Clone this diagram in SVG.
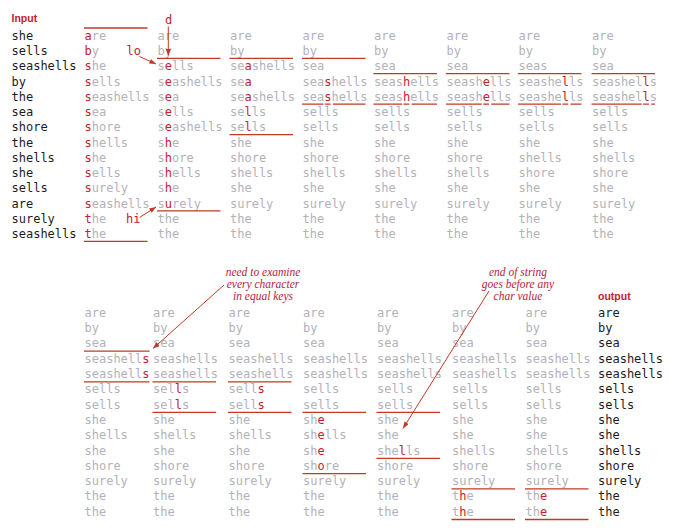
<svg xmlns="http://www.w3.org/2000/svg" width="680" height="531" viewBox="0 0 680 531">
  <style>
    text { font-family: "DejaVu Sans Mono", "Liberation Mono", monospace; font-size: 12px; }
    .g { fill: #b2b2ba; }
    .k { fill: #1c1c1c; }
    .h { fill: #c8202e; }
    .ln { stroke: #c23a24; stroke-width: 1.3; fill: none; }
    .lab { font-family: "Liberation Sans", Arial, sans-serif; font-weight: bold; font-size: 10.5px; fill: #c8202e; }
    .note { font-family: "Liberation Serif", "Times New Roman", serif; font-style: italic; font-size: 11.5px; fill: #b8213a; text-anchor: middle; }
    .arr { stroke: #c23a24; stroke-width: 1; fill: none; marker-end: url(#ah); }
  </style>
  <defs>
    <marker id="ah" viewBox="0 0 8 6" refX="8" refY="3" markerWidth="7" markerHeight="5" orient="auto" markerUnits="userSpaceOnUse">
      <path d="M0,0 L8,3 L0,6 z" fill="#c23a24"/>
    </marker>
  </defs>

  <!-- labels -->
  <text class="lab" x="11.5" y="21.5">Input</text>
  <text class="lab" x="598" y="300">output</text>
  <text class="h" x="165" y="24">d</text>
  <text class="h" x="126.5" y="55.1">lo</text>
  <text class="h" x="126" y="222.8">hi</text>
  <text class="note" x="263" y="276">need to examine</text>
  <text class="note" x="263" y="288">every character</text>
  <text class="note" x="263" y="300">in equal keys</text>
  <text class="note" x="518" y="276">end of string</text>
  <text class="note" x="518" y="288">goes before any</text>
  <text class="note" x="518" y="300">char value</text>

  <!-- input keys -->
  <g id="input" class="k" transform="translate(11.5,0)">
    <text y="39.8">she</text><text y="55.1">sells</text><text y="70.3">seashells</text><text y="85.6">by</text>
    <text y="100.8">the</text><text y="116.1">sea</text><text y="131.3">shore</text><text y="146.6">the</text>
    <text y="161.8">shells</text><text y="177.1">she</text><text y="192.3">sells</text><text y="207.6">are</text>
    <text y="222.8">surely</text><text y="238.1">seashells</text>
  </g>

  <!-- top trace, step 1: partition on first char -->
  <g id="top1" class="g" transform="translate(84.5,0)">
    <text y="39.8"><tspan class="h">a</tspan>re</text>
    <text y="55.1"><tspan class="h">b</tspan>y</text>
    <text y="70.3"><tspan class="h">s</tspan>he</text>
    <text y="85.6"><tspan class="h">s</tspan>ells</text>
    <text y="100.8"><tspan class="h">s</tspan>eashells</text>
    <text y="116.1"><tspan class="h">s</tspan>ea</text>
    <text y="131.3"><tspan class="h">s</tspan>hore</text>
    <text y="146.6"><tspan class="h">s</tspan>hells</text>
    <text y="161.8"><tspan class="h">s</tspan>he</text>
    <text y="177.1"><tspan class="h">s</tspan>ells</text>
    <text y="192.3"><tspan class="h">s</tspan>urely</text>
    <text y="207.6"><tspan class="h">s</tspan>eashells</text>
    <text y="222.8"><tspan class="h">t</tspan>he</text>
    <text y="238.1"><tspan class="h">t</tspan>he</text>
    <path class="ln" d="M-0.5,28H63M-0.5,241.4H63"/>
  </g>

  <g id="top2" class="g" transform="translate(157.5,0)">
    <text y="39.8">are</text>
    <text y="55.1">by</text>
    <text y="70.3">s<tspan class="h">e</tspan>lls</text>
    <text y="85.6">s<tspan class="h">e</tspan>ashells</text>
    <text y="100.8">s<tspan class="h">e</tspan>a</text>
    <text y="116.1">s<tspan class="h">e</tspan>lls</text>
    <text y="131.3">s<tspan class="h">e</tspan>ashells</text>
    <text y="146.6">s<tspan class="h">h</tspan>e</text>
    <text y="161.8">s<tspan class="h">h</tspan>ore</text>
    <text y="177.1">s<tspan class="h">h</tspan>ells</text>
    <text y="192.3">s<tspan class="h">h</tspan>e</text>
    <text y="207.6">s<tspan class="h">u</tspan>rely</text>
    <text y="222.8">the</text>
    <text y="238.1">the</text>
    <path class="ln" d="M-0.5,58.4H63M-0.5,210.9H63"/>
  </g>

  <g id="top3" class="g" transform="translate(230,0)">
    <text y="39.8">are</text>
    <text y="55.1">by</text>
    <text y="70.3">se<tspan class="h">a</tspan>shells</text>
    <text y="85.6">se<tspan class="h">a</tspan></text>
    <text y="100.8">se<tspan class="h">a</tspan>shells</text>
    <text y="116.1">se<tspan class="h">l</tspan>ls</text>
    <text y="131.3">se<tspan class="h">l</tspan>ls</text>
    <text y="146.6">she</text>
    <text y="161.8">shore</text>
    <text y="177.1">shells</text>
    <text y="192.3">she</text>
    <text y="207.6">surely</text>
    <text y="222.8">the</text>
    <text y="238.1">the</text>
    <path class="ln" d="M-0.5,58.4H63M-0.5,134.6H63"/>
  </g>

  <g id="top4" class="g" transform="translate(302.5,0)">
    <text y="39.8">are</text>
    <text y="55.1">by</text>
    <text y="70.3">sea</text>
    <text y="85.6">sea<tspan class="h">s</tspan>hells</text>
    <text y="100.8">sea<tspan class="h">s</tspan>hells</text>
    <text y="116.1">sells</text>
    <text y="131.3">sells</text>
    <text y="146.6">she</text>
    <text y="161.8">shore</text>
    <text y="177.1">shells</text>
    <text y="192.3">she</text>
    <text y="207.6">surely</text>
    <text y="222.8">the</text>
    <text y="238.1">the</text>
    <path class="ln" d="M-0.5,58.4H63M-0.5,104.1H20.9M22.3,104.1H28.1M30.4,104.1H63"/>
  </g>

  <g id="top5" class="g" transform="translate(374,0)">
    <text y="39.8">are</text>
    <text y="55.1">by</text>
    <text y="70.3">sea</text>
    <text y="85.6">seas<tspan class="h">h</tspan>ells</text>
    <text y="100.8">seas<tspan class="h">h</tspan>ells</text>
    <text y="116.1">sells</text>
    <text y="131.3">sells</text>
    <text y="146.6">she</text>
    <text y="161.8">shore</text>
    <text y="177.1">shells</text>
    <text y="192.3">she</text>
    <text y="207.6">surely</text>
    <text y="222.8">the</text>
    <text y="238.1">the</text>
    <path class="ln" d="M-0.5,73.6H63M-0.5,104.1H28.1M29.5,104.1H35.3M37.6,104.1H63"/>
  </g>

  <g id="top6" class="g" transform="translate(446.5,0)">
    <text y="39.8">are</text>
    <text y="55.1">by</text>
    <text y="70.3">sea</text>
    <text y="85.6">seash<tspan class="h">e</tspan>lls</text>
    <text y="100.8">seash<tspan class="h">e</tspan>lls</text>
    <text y="116.1">sells</text>
    <text y="131.3">sells</text>
    <text y="146.6">she</text>
    <text y="161.8">shore</text>
    <text y="177.1">shells</text>
    <text y="192.3">she</text>
    <text y="207.6">surely</text>
    <text y="222.8">the</text>
    <text y="238.1">the</text>
    <path class="ln" d="M-0.5,73.6H63M-0.5,104.1H35.3M36.7,104.1H42.5M44.8,104.1H63"/>
  </g>

  <g id="top7" class="g" transform="translate(518.5,0)">
    <text y="39.8">are</text>
    <text y="55.1">by</text>
    <text y="70.3">seas</text>
    <text y="85.6">seashe<tspan class="h">l</tspan>ls</text>
    <text y="100.8">seashe<tspan class="h">l</tspan>ls</text>
    <text y="116.1">sells</text>
    <text y="131.3">sells</text>
    <text y="146.6">she</text>
    <text y="161.8">shells</text>
    <text y="177.1">shore</text>
    <text y="192.3">she</text>
    <text y="207.6">surely</text>
    <text y="222.8">the</text>
    <text y="238.1">the</text>
    <path class="ln" d="M-0.5,73.6H63M-0.5,104.1H42.5M43.9,104.1H49.7M52,104.1H63"/>
  </g>

  <g id="top8" class="g" transform="translate(592,0)">
    <text y="39.8">are</text>
    <text y="55.1">by</text>
    <text y="70.3">sea</text>
    <text y="85.6">seashel<tspan class="h">l</tspan>s</text>
    <text y="100.8">seashel<tspan class="h">l</tspan>s</text>
    <text y="116.1">sells</text>
    <text y="131.3">sells</text>
    <text y="146.6">she</text>
    <text y="161.8">shells</text>
    <text y="177.1">shore</text>
    <text y="192.3">she</text>
    <text y="207.6">surely</text>
    <text y="222.8">the</text>
    <text y="238.1">the</text>
    <path class="ln" d="M-0.5,73.6H63M-0.5,104.1H49.7M51.1,104.1H56.9M59.3,104.1H63"/>
  </g>

  <!-- bottom trace -->
  <g id="bot1" class="g" transform="translate(84.5,0)">
    <text y="316.8">are</text>
    <text y="332.1">by</text>
    <text y="347.4">sea</text>
    <text y="362.7">seashell<tspan class="h">s</tspan></text>
    <text y="378">seashell<tspan class="h">s</tspan></text>
    <text y="393.3">sells</text>
    <text y="408.6">sells</text>
    <text y="423.9">she</text>
    <text y="439.2">shells</text>
    <text y="454.5">she</text>
    <text y="469.8">shore</text>
    <text y="485.1">surely</text>
    <text y="500.4">the</text>
    <text y="515.7">the</text>
    <path class="ln" d="M-0.5,351.2H65M-0.5,381.8H65"/>
  </g>

  <g id="bot2" class="g" transform="translate(153,0)">
    <text y="316.8">are</text>
    <text y="332.1">by</text>
    <text y="347.4">sea</text>
    <text y="362.7">seashells</text>
    <text y="378">seashells</text>
    <text y="393.3">sel<tspan class="h">l</tspan>s</text>
    <text y="408.6">sel<tspan class="h">l</tspan>s</text>
    <text y="423.9">she</text>
    <text y="439.2">shells</text>
    <text y="454.5">she</text>
    <text y="469.8">shore</text>
    <text y="485.1">surely</text>
    <text y="500.4">the</text>
    <text y="515.7">the</text>
    <path class="ln" d="M-0.5,381.8H63M-0.5,412.4H63"/>
  </g>

  <g id="bot3" class="g" transform="translate(228.5,0)">
    <text y="316.8">are</text>
    <text y="332.1">by</text>
    <text y="347.4">sea</text>
    <text y="362.7">seashells</text>
    <text y="378">seashells</text>
    <text y="393.3">sell<tspan class="h">s</tspan></text>
    <text y="408.6">sell<tspan class="h">s</tspan></text>
    <text y="423.9">she</text>
    <text y="439.2">shells</text>
    <text y="454.5">she</text>
    <text y="469.8">shore</text>
    <text y="485.1">surely</text>
    <text y="500.4">the</text>
    <text y="515.7">the</text>
    <path class="ln" d="M-0.5,381.8H63M-0.5,412.4H63"/>
  </g>

  <g id="bot4" class="g" transform="translate(303,0)">
    <text y="316.8">are</text>
    <text y="332.1">by</text>
    <text y="347.4">sea</text>
    <text y="362.7">seashells</text>
    <text y="378">seashells</text>
    <text y="393.3">sells</text>
    <text y="408.6">sells</text>
    <text y="423.9">sh<tspan class="h">e</tspan></text>
    <text y="439.2">sh<tspan class="h">e</tspan>lls</text>
    <text y="454.5">sh<tspan class="h">e</tspan></text>
    <text y="469.8">sh<tspan class="h">o</tspan>re</text>
    <text y="485.1">surely</text>
    <text y="500.4">the</text>
    <text y="515.7">the</text>
    <path class="ln" d="M-0.5,412.4H63M-0.5,473.6H63"/>
  </g>

  <g id="bot5" class="g" transform="translate(377,0)">
    <text y="316.8">are</text>
    <text y="332.1">by</text>
    <text y="347.4">sea</text>
    <text y="362.7">seashells</text>
    <text y="378">seashells</text>
    <text y="393.3">sells</text>
    <text y="408.6">sells</text>
    <text y="423.9">she</text>
    <text y="439.2">she</text>
    <text y="454.5">she<tspan class="h">l</tspan>ls</text>
    <text y="469.8">shore</text>
    <text y="485.1">surely</text>
    <text y="500.4">the</text>
    <text y="515.7">the</text>
    <path class="ln" d="M-0.5,412.4H63M-0.5,458.3H63"/>
  </g>

  <g id="bot6" class="g" transform="translate(452,0)">
    <text y="316.8">are</text>
    <text y="332.1">by</text>
    <text y="347.4">sea</text>
    <text y="362.7">seashells</text>
    <text y="378">seashells</text>
    <text y="393.3">sells</text>
    <text y="408.6">sells</text>
    <text y="423.9">she</text>
    <text y="439.2">she</text>
    <text y="454.5">shells</text>
    <text y="469.8">shore</text>
    <text y="485.1">surely</text>
    <text y="500.4">t<tspan class="h">h</tspan>e</text>
    <text y="515.7">t<tspan class="h">h</tspan>e</text>
    <path class="ln" d="M-0.5,488.9H63M-0.5,519.5H63"/>
  </g>

  <g id="bot7" class="g" transform="translate(525.5,0)">
    <text y="316.8">are</text>
    <text y="332.1">by</text>
    <text y="347.4">sea</text>
    <text y="362.7">seashells</text>
    <text y="378">seashells</text>
    <text y="393.3">sells</text>
    <text y="408.6">sells</text>
    <text y="423.9">she</text>
    <text y="439.2">she</text>
    <text y="454.5">shells</text>
    <text y="469.8">shore</text>
    <text y="485.1">surely</text>
    <text y="500.4">th<tspan class="h">e</tspan></text>
    <text y="515.7">th<tspan class="h">e</tspan></text>
    <path class="ln" d="M-0.5,488.9H63M-0.5,519.5H63"/>
  </g>

  <!-- sorted output -->
  <g id="output" class="k" transform="translate(598,0)">
    <text y="316.8">are</text><text y="332.1">by</text><text y="347.4">sea</text><text y="362.7">seashells</text>
    <text y="378">seashells</text><text y="393.3">sells</text><text y="408.6">sells</text><text y="423.9">she</text>
    <text y="439.2">she</text><text y="454.5">shells</text><text y="469.8">shore</text><text y="485.1">surely</text>
    <text y="500.4">the</text><text y="515.7">the</text>
  </g>

  <!-- pointer arrows -->
  <g id="connectors">
    <line class="arr" x1="168.3" y1="26.5" x2="168.3" y2="55.5"/>
    <line class="arr" x1="139.5" y1="56.5" x2="156" y2="64"/>
    <line class="arr" x1="139.5" y1="217.5" x2="156" y2="207"/>
    <line class="arr" x1="224" y1="285" x2="153" y2="348.5"/>
    <line class="arr" x1="489" y1="291" x2="403" y2="428.5"/>
  </g>
</svg>
